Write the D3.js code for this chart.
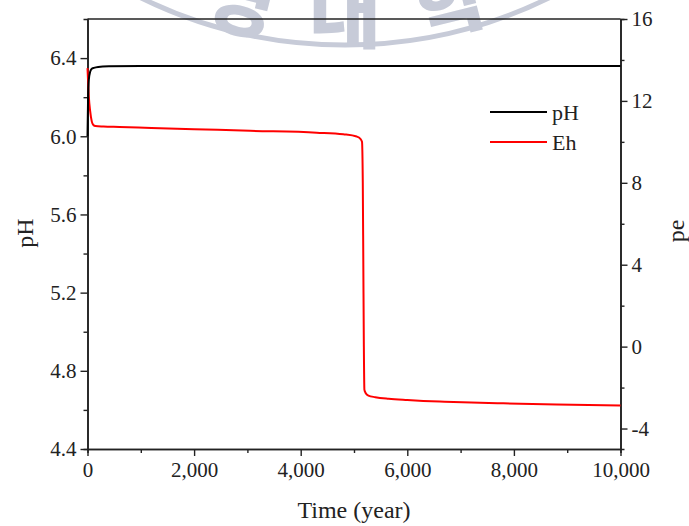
<!DOCTYPE html>
<html>
<head>
<meta charset="utf-8">
<script src="https://cdn.jsdelivr.net/npm/d3@7"></script>
<style>
  html, body { margin: 0; padding: 0; background: #fff; }
  svg { display: block; }
  text { font-family: "Liberation Serif", "Times New Roman", serif; fill: #222; }
</style>
</head>
<body>
<script>
// ---- data ----
const phYears = [0, 10, 25, 50, 80, 120, 200, 400, 1000, 2000, 4000, 6000, 8000, 10000];
const phValues = [6.0, 6.18, 6.29, 6.33, 6.345, 6.35, 6.355, 6.358, 6.36, 6.36, 6.36, 6.36, 6.36, 6.36];

const ehYears = [0, 10, 25, 50, 80, 110, 150, 300, 600, 1200, 2000, 3050, 4300, 4800, 5050, 5120, 5150, 5165, 5175, 5185, 5195, 5215, 5270, 5400, 5650, 6000, 6300, 6700, 7200, 7800, 8800, 10000];
const ehValues = [13.6, 13.0, 12.2, 11.5, 11.0, 10.82, 10.77, 10.75, 10.73, 10.68, 10.62, 10.54, 10.45, 10.37, 10.26, 10.15, 10.0, 8.0, 4.0, 0.0, -2.1, -2.25, -2.39, -2.47, -2.55, -2.61, -2.65, -2.69, -2.73, -2.77, -2.83, -2.88];

const xTicks = [0, 2000, 4000, 6000, 8000, 10000];
const xMinor = [1000, 3000, 5000, 7000, 9000];
const phTicks = [4.4, 4.8, 5.2, 5.6, 6.0, 6.4];
const phMinor = [4.6, 5.0, 5.4, 5.8, 6.2];
const peTicks = [-4, 0, 4, 8, 12, 16];
const peMinor = [-2, 2, 6, 10, 14];
const seriesNames = ["pH", "Eh"];
const seriesColors = ["#000000", "#ff0000"];
const watermarkChars = ["경", "대", "학"];

// ---- layout ----
const W = 689, H = 526;
const m = { left: 87.5, right: W - 620.5, top: 19, bottom: H - 449 };

const svg = d3.select("body").append("svg").attr("width", W).attr("height", H);

// watermark (decorative, faint)
const wmColor = "#c7cbd8";
const wm = svg.append("g");
const cx = 345, cy = -420;
wm.append("path")
  .attr("fill", "none").attr("stroke", wmColor).attr("stroke-width", 5)
  .attr("d", d3.arc()({ innerRadius: 465, outerRadius: 465, startAngle: Math.PI * (1 - 0.16), endAngle: Math.PI * (1 + 0.16) }))
  .attr("transform", `translate(${cx},${cy})`);
const wmAngles = [-14, 0, 14];
watermarkChars.forEach((ch, i) => {
  const a = wmAngles[i] * Math.PI / 180;
  const R = 462;
  const px = cx + R * Math.sin(a), py = cy + R * Math.cos(a);
  wm.append("text")
    .attr("transform", `translate(${px},${py}) rotate(${-wmAngles[i]})`)
    .attr("text-anchor", "middle")
    .style("font-family", "'Noto Sans CJK KR', sans-serif")
    .style("font-weight", 900)
    .style("font-size", "78px")
    .style("fill", wmColor)
    .text(ch);
});

const x = d3.scaleLinear().domain([0, 10000]).range([m.left, W - m.right]);
const yPh = d3.scaleLinear().domain([4.4, 6.6]).range([H - m.bottom, m.top]);
const yPe = d3.scaleLinear().domain([-5, 16]).range([H - m.bottom, m.top]);

const fontTick = "21px";

// frame top line
svg.append("line")
  .attr("x1", m.left).attr("x2", W - m.right)
  .attr("y1", m.top).attr("y2", m.top)
  .attr("stroke", "#222").attr("stroke-width", 1.6);

function styleAxis(g) {
  g.selectAll(".domain").attr("stroke", "#222").attr("stroke-width", 1.6);
  g.selectAll(".tick line").attr("stroke", "#222").attr("stroke-width", 1.4);
  g.selectAll(".tick text").style("font-size", fontTick).attr("fill", "#222")
    .style("font-family", "'Liberation Serif', serif");
}

// bottom axis
const gx = svg.append("g").attr("transform", `translate(0,${H - m.bottom})`);
gx.append("g").call(d3.axisBottom(x).tickValues(xMinor).tickSize(4).tickFormat("")).call(styleAxis);
gx.append("g").call(d3.axisBottom(x).tickValues(xTicks).tickSize(7).tickSizeOuter(0).tickPadding(6).tickFormat(d3.format(",")))
  .call(styleAxis);

// left axis
const gl = svg.append("g").attr("transform", `translate(${m.left},0)`);
gl.append("g").call(d3.axisLeft(yPh).tickValues(phMinor).tickSize(4).tickFormat("")).call(styleAxis);
gl.append("g").call(d3.axisLeft(yPh).tickValues(phTicks).tickSize(7).tickSizeOuter(0).tickPadding(4).tickFormat(d3.format(".1f")))
  .call(styleAxis);

// right axis
const gr = svg.append("g").attr("transform", `translate(${W - m.right},0)`);
gr.append("g").call(d3.axisRight(yPe).tickValues(peMinor).tickSize(4).tickFormat("")).call(styleAxis);
gr.append("g").call(d3.axisRight(yPe).tickValues(peTicks).tickSize(7).tickSizeOuter(0).tickPadding(4).tickFormat(d => d < 0 ? "-" + Math.abs(d) : d))
  .call(styleAxis);

// lines
const linePh = d3.line().x((d, i) => x(phYears[i])).y(d => yPh(d)).curve(d3.curveMonotoneX);
const linePe = d3.line().x((d, i) => x(ehYears[i])).y(d => yPe(d)).curve(d3.curveMonotoneX);

svg.append("path").datum(ehValues).attr("d", linePe)
  .attr("fill", "none").attr("stroke", seriesColors[1]).attr("stroke-width", 2);
svg.append("path").datum(phValues).attr("d", linePh)
  .attr("fill", "none").attr("stroke", seriesColors[0]).attr("stroke-width", 2);

// axis titles
svg.append("text").attr("x", 354).attr("y", 518).attr("text-anchor", "middle")
  .style("font-size", "24px").text("Time (year)");
svg.append("text").attr("transform", "translate(33,233) rotate(-90)").attr("text-anchor", "middle")
  .style("font-size", "24px").text("pH");
svg.append("text").attr("transform", "translate(684,231) rotate(-90)").attr("text-anchor", "middle")
  .style("font-size", "24px").text("pe");

// legend
const lg = svg.append("g");
seriesNames.forEach((name, i) => {
  const yy = 112 + i * 30;
  lg.append("line").attr("x1", 490).attr("x2", 547).attr("y1", yy).attr("y2", yy)
    .attr("stroke", seriesColors[i]).attr("stroke-width", 2);
  lg.append("text").attr("x", 552).attr("y", yy + 8).style("font-size", "22px").text(name);
});
</script>
</body>
</html>
